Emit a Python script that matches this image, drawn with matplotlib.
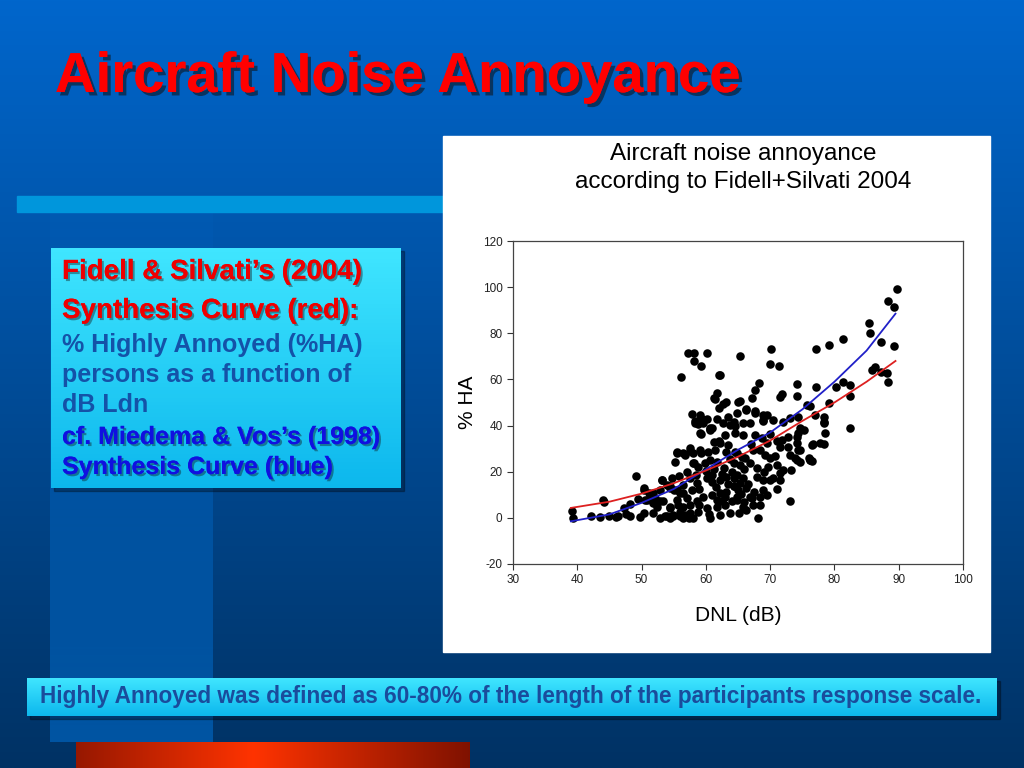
import numpy as np
import matplotlib
matplotlib.use("Agg")
import matplotlib.pyplot as plt
import matplotlib.patheffects as pe
from matplotlib.patches import Rectangle

plt.rcParams["font.family"] = ["Liberation Sans", "DejaVu Sans"]
plt.rcParams["axes.unicode_minus"] = False

# Synthesis curves (DNL in dB, %HA)
curve_dnl = [39, 45, 50, 55, 60, 65, 70, 75, 80, 85, 89.5]
fidell_ha = [4.3, 7.0, 10.5, 15.0, 20.5, 26.5, 33.5, 42.0, 50.0, 59.0, 68.0]
miedema_ha = [-1.5, 1.5, 6.5, 12.5, 21.0, 29.5, 37.0, 47.0, 59.0, 72.5, 88.5]

# Survey points (DNL, %HA), estimated from the scatter
survey_points = [
    (39.1, 3.0), (39.4, 0.0), (42.2, 0.9), (43.5, 0.3), (44.0, 7.8), (44.2, 7.0),
    (45.0, 0.6), (46.0, 0.5), (46.3, 0.8), (47.2, 4.2), (48.2, 6.1), (47.5, 1.5),
    (48.2, 0.8), (49.1, 18.3), (49.5, 8.0), (49.8, 0.5), (50.3, 12.0), (51.1, 10.7),
    (50.6, 7.8), (51.3, 8.5), (52.1, 8.5), (52.4, 4.9), (52.9, 7.1), (53.1, 16.5),
    (53.9, 14.3), (54.7, 17.2), (54.4, 13.6), (55.0, 12.1), (55.2, 24.4), (55.5, 28.0),
    (56.8, 27.3), (56.0, 10.7), (55.7, 5.6), (54.4, 4.3), (53.9, 0.6), (54.9, 0.6),
    (56.0, 0.6), (56.8, 1.3), (57.3, 0.0),
    (58.3, 41.0), (59.6, 41.0), (60.9, 38.9), (62.7, 41.0), (63.7, 40.3), (64.5, 39.6),
    (59.1, 36.7), (60.6, 38.1), (63.0, 36.0), (62.2, 32.4), (63.5, 31.6), (61.4, 29.5),
    (63.2, 28.7), (64.5, 28.7), (55.5, 28.7), (56.5, 28.0), (57.5, 30.2), (58.0, 28.0),
    (59.3, 28.0), (60.4, 28.7), (60.6, 25.1), (61.7, 24.4), (59.9, 23.7),
    (58.0, 23.7), (58.8, 22.2), (53.1, 16.5), (50.3, 12.9), (56.5, 14.3),
    (57.5, 17.2), (58.6, 15.0), (60.1, 17.2), (60.9, 18.6), (62.2, 16.5), (63.2, 17.9),
    (64.3, 17.2), (51.8, 10.7), (52.9, 12.1), (54.4, 12.9), (55.5, 12.1), (56.5, 10.7),
    (50.8, 7.8), (51.8, 6.4), (53.4, 7.1), (54.4, 4.9), (55.5, 7.8), (56.5, 4.9),
    (57.5, 5.6), (58.6, 7.1), (59.6, 9.2), (60.9, 10.0), (62.2, 10.7), (63.2, 11.4),
    (64.3, 13.6), (50.3, 2.0), (51.8, 2.0), (53.6, 0.6), (54.9, 1.3), (56.0, 2.7),
    (57.5, 2.0), (58.8, 2.7), (60.1, 4.2), (61.7, 4.9), (63.0, 5.6), (64.0, 7.1),
    (64.8, 7.8), (52.9, 0.0), (54.4, 0.0), (56.5, 0.0), (58.0, 0.0), (60.6, 0.0),
    (62.2, 1.3), (63.7, 2.0), (59.0, 12.5), (61.5, 13.5), (57.0, 8.5), (62.5, 7.5),
    (65.0, 50.4), (66.3, 46.8), (67.6, 45.4), (68.9, 44.6), (64.3, 41.7), (65.8, 41.0),
    (66.9, 41.0), (68.9, 42.5), (70.5, 42.5), (72.0, 41.7), (73.1, 43.2), (74.4, 43.9),
    (78.3, 41.7), (64.5, 36.7), (65.8, 36.0), (67.6, 36.0), (68.7, 34.5), (69.5, 32.4),
    (71.0, 33.1), (71.8, 33.8), (72.8, 35.2), (74.6, 38.9), (74.4, 36.7), (76.5, 31.6),
    (77.7, 32.4), (78.5, 36.7), (64.8, 28.0), (66.1, 25.9), (67.4, 29.5), (68.4, 29.5),
    (69.2, 27.3), (70.0, 25.9), (71.5, 30.9), (72.8, 30.9), (73.1, 27.3), (73.9, 25.9),
    (74.6, 24.4), (76.2, 25.1), (64.3, 23.7), (65.3, 23.0), (67.9, 21.5), (69.7, 22.2),
    (71.0, 23.0), (72.0, 20.8), (73.3, 20.8), (64.8, 18.6), (65.8, 17.2), (67.9, 17.9),
    (68.9, 16.5), (70.5, 17.2), (71.5, 16.5), (64.3, 13.6), (65.3, 15.0), (66.3, 12.9),
    (68.9, 12.1), (64.8, 9.2), (66.9, 9.2), (68.4, 9.2), (65.8, 4.9), (67.4, 5.6),
    (73.1, 7.1), (68.1, 0.0), (66.3, 3.5), (68.4, 5.6), (67.1, 8.5), (70.0, 16.5),
    (71.5, 19.4), (74.1, 25.1), (74.6, 29.5), (76.0, 25.9), (74.4, 29.5), (74.1, 32.4),
    (75.2, 38.1), (74.1, 35.2), (76.5, 24.7), (66.0, 21.0), (69.0, 20.0), (70.8, 27.0),
    (67.0, 32.0), (70.0, 36.5), (66.5, 14.5), (69.5, 10.0), (71.0, 12.5), (65.5, 10.5),
    (62.8, 21.5), (63.8, 25.5), (65.6, 26.5), (66.8, 23.8), (64.0, 20.0), (62.5, 19.0),
    (61.2, 21.0), (60.0, 20.5), (61.0, 15.5), (63.5, 14.8), (65.0, 12.0), (67.5, 11.0),
    (66.0, 7.0), (63.0, 9.0), (61.8, 7.8), (59.0, 5.5), (60.5, 1.5), (65.2, 2.0),
    (57.0, 20.0), (58.5, 18.5), (55.8, 18.0), (57.8, 12.0),
    (57.2, 71.4), (58.2, 71.4), (60.2, 71.4), (58.2, 68.0), (59.2, 66.0), (56.2, 61.0),
    (62.0, 62.0), (61.2, 51.9), (61.8, 54.0), (59.1, 44.6), (58.3, 42.0), (59.1, 42.4),
    (60.2, 42.8), (60.7, 38.6), (59.2, 36.4), (61.2, 33.0), (62.0, 33.5), (57.5, 29.0),
    (59.1, 29.5), (58.2, 23.8), (61.4, 51.4), (63.2, 50.4), (62.7, 49.3), (65.3, 50.7),
    (62.0, 47.5), (66.3, 47.1), (67.6, 46.1), (57.8, 45.0), (59.4, 43.0), (58.7, 40.8),
    (61.8, 42.7), (63.5, 43.5), (64.8, 45.5), (69.5, 44.6), (68.9, 42.0), (60.6, 39.0),
    (89.7, 99.3), (88.3, 94.0), (89.3, 91.2), (85.3, 84.4), (85.5, 80.3), (87.2, 76.2),
    (89.2, 74.3), (81.3, 77.5), (79.2, 75.0), (77.2, 73.1), (70.2, 73.1), (65.3, 70.2),
    (70.0, 66.8), (71.3, 65.9), (62.2, 62.0), (68.2, 58.6), (67.6, 55.5), (67.1, 51.9),
    (74.1, 58.0), (71.8, 53.8), (71.5, 52.2), (74.1, 52.9), (77.2, 56.9), (80.2, 56.9),
    (81.4, 58.8), (82.4, 57.7), (85.8, 64.2), (86.3, 65.2), (87.3, 63.4), (88.1, 62.7),
    (88.3, 59.1), (82.4, 52.9), (79.2, 50.0), (75.7, 49.0), (76.2, 48.5), (77.0, 44.6),
    (78.3, 43.9), (78.3, 41.0), (82.4, 38.9), (76.7, 31.9), (78.3, 31.9), (76.2, 25.0),
]

x_ticks = [30, 40, 50, 60, 70, 80, 90, 100]
y_ticks = [-20, 0, 20, 40, 60, 80, 100, 120]

W, H = 1024, 768
fig = plt.figure(figsize=(W / 100, H / 100), dpi=100)

# slide background, drawn in pixel coordinates
bg = fig.add_axes([0, 0, 1, 1])
bg.axis("off")

top = np.array([0, 102, 204]) / 255
bottom = np.array([0, 50, 100]) / 255
t = np.linspace(0, 1, 256)[:, None]
grad = top * (1 - t) + bottom * t
bg.imshow(grad[:, None, :].repeat(2, axis=1), extent=(0, W, H, 0), aspect="auto", zorder=0)

# lighter vertical strip on the left
t2 = np.linspace(0, 1, 128)[:, None]
strip = np.zeros((128, 2, 4))
strip[..., :3] = np.array([0.0, 0.45, 0.85])
strip[..., 3] = (0.08 + 0.45 * t2)
bg.imshow(strip, extent=(50, 213, 742, 212), aspect="auto", zorder=1)

# light horizontal band
bg.add_patch(Rectangle((17, 196), 426, 16, color="#0096DC", zorder=2))

# red bar at the bottom
tx = np.linspace(0, 1, 256)
peak = np.clip(1 - np.abs(tx - 0.45) / 0.55, 0, 1)
red_bar = np.zeros((2, 256, 3))
red_bar[..., 0] = 0.5 + 0.5 * peak
red_bar[..., 1] = 0.07 + 0.13 * peak
bg.imshow(red_bar, extent=(76, 470, 768, 742), aspect="auto", zorder=2)


def cyan_box(x0, y0, w, h):
    bg.add_patch(Rectangle((x0 + 3, y0 + 3), w, h, color="black", alpha=0.3, zorder=3))
    tt = np.linspace(0, 1, 64)[:, None]
    c1 = np.array([0.25, 0.9, 1.0])
    c2 = np.array([0.05, 0.72, 0.93])
    g = c1 * (1 - tt) + c2 * tt
    bg.imshow(g[:, None, :].repeat(2, axis=1), extent=(x0, x0 + w, y0 + h, y0),
              aspect="auto", zorder=4)


cyan_box(51, 248, 350, 240)
cyan_box(27, 678, 970, 38)
bg.set_xlim(0, W)
bg.set_ylim(H, 0)

big_shadow = [pe.withSimplePatchShadow(offset=(2.5, -2.5), shadow_rgbFace="#101010", alpha=0.55), pe.Normal()]
small_shadow = [pe.withSimplePatchShadow(offset=(1.5, -1.5), shadow_rgbFace="#101010", alpha=0.4), pe.Normal()]

bg.text(55, 78, "Aircraft Noise Annoyance", color="#FF0000", fontsize=40.5,
        fontweight="bold", va="center", ha="left", path_effects=big_shadow, zorder=5)

box_lines = [
    ("Fidell & Silvati’s (2004)", "#EE0000", 20, 272, True),
    ("Synthesis Curve (red):", "#EE0000", 20, 311, True),
    ("% Highly Annoyed (%HA)", "#1452A8", 18, 345, False),
    ("persons as a function of", "#1452A8", 18, 375, False),
    ("dB Ldn", "#1452A8", 18, 405, False),
    ("cf. Miedema & Vos’s (1998)", "#1010E0", 18, 437, True),
    ("Synthesis Curve (blue)", "#1010E0", 18, 467, True),
]
for txt, col, size, y, shad in box_lines:
    bg.text(62, y, txt, color=col, fontsize=size, fontweight="bold",
            va="center", ha="left", path_effects=small_shadow if shad else None, zorder=6)

bg.text(511, 697, "Highly Annoyed was defined as 60-80% of the length of the participants response scale.",
        color="#1A4C9C", fontsize=16.3, fontweight="bold", va="center", ha="center", zorder=6)

# white chart panel
bg.add_patch(Rectangle((443, 136), 547, 516, color="white", zorder=5))
bg.text(743, 168, "Aircraft noise annoyance\naccording to Fidell+Silvati 2004",
        fontsize=17.5, ha="center", va="center", linespacing=1.35, color="black", zorder=6)

# the scatter chart itself
ax = fig.add_axes([513 / W, 1 - 564 / H, 450 / W, 323 / H])
ax.set_facecolor("white")
xs = [p[0] for p in survey_points]
ys = [p[1] for p in survey_points]
ax.scatter(xs, ys, s=38, color="black", zorder=3, linewidths=0)
ax.plot(curve_dnl, miedema_ha, color="#2020C8", lw=1.3, zorder=4)
ax.plot(curve_dnl, fidell_ha, color="#DD2020", lw=1.3, zorder=4)

ax.set_xlim(30, 100)
ax.set_ylim(-20, 120)
ax.set_xticks(x_ticks)
ax.set_yticks(y_ticks)
ax.tick_params(labelsize=8.5, length=4, width=0.8, color="#333333", labelcolor="#222222",
               direction="out")
for s in ax.spines.values():
    s.set_color("#444444")
    s.set_linewidth(0.9)
ax.set_xlabel("DNL (dB)", fontsize=15, labelpad=14)
ax.set_ylabel("% HA", fontsize=15, labelpad=4)

fig.savefig("out.png", dpi=100)
